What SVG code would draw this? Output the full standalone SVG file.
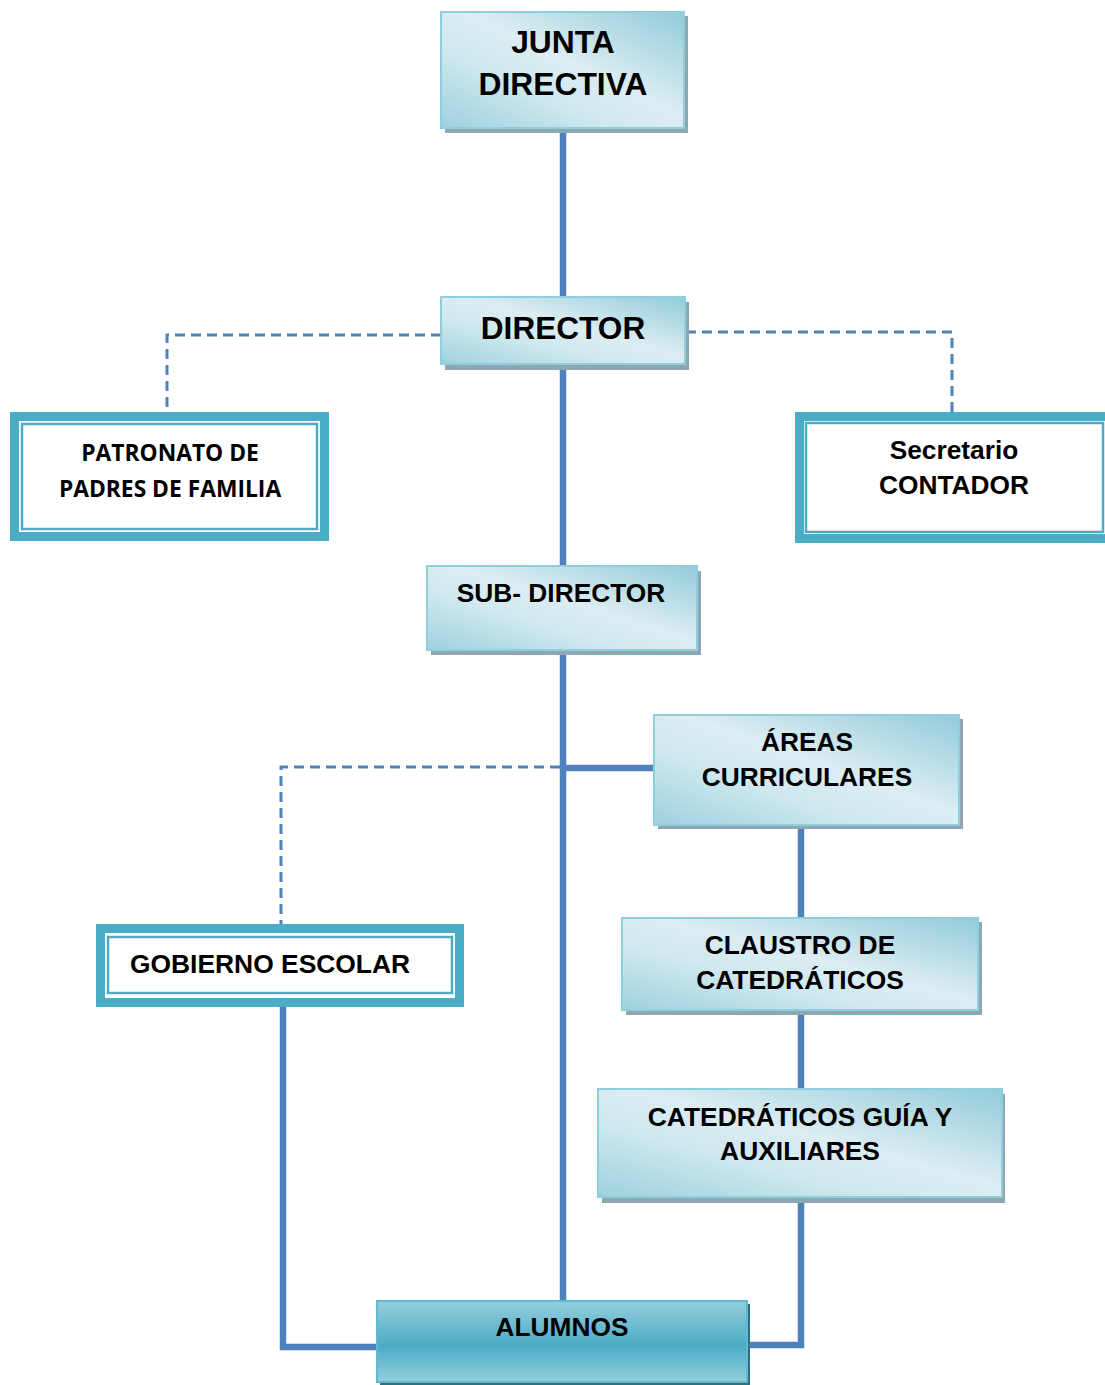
<svg xmlns="http://www.w3.org/2000/svg" width="1105" height="1385" viewBox="0 0 1105 1385">
<defs>
<linearGradient id="lb" x1="0" y1="1" x2="1" y2="0">
<stop offset="0" stop-color="#9ed1de"/>
<stop offset="0.35" stop-color="#cfe8ef"/>
<stop offset="0.55" stop-color="#dcedf3"/>
<stop offset="1" stop-color="#92cbda"/>
</linearGradient>
<linearGradient id="al" x1="0" y1="0" x2="0" y2="1">
<stop offset="0" stop-color="#95cedd"/>
<stop offset="0.55" stop-color="#4bacc6"/>
<stop offset="1" stop-color="#95cedd"/>
</linearGradient>
<style>
.sh{fill:#8ea7b0}
.lb{fill:url(#lb);stroke:#8fcfdd;stroke-width:2}
.t{font-family:"Liberation Sans",Arial,sans-serif;font-weight:bold;fill:#000;text-anchor:middle}
.tc{font-family:"Open Sans","Noto Sans",sans-serif;font-weight:bold;fill:#000;text-anchor:middle}
.ob{fill:#fff;stroke:#4bacc6;stroke-width:9}
.ib{fill:none;stroke:#4bacc6;stroke-width:2.5}
.c{fill:none;stroke:#4f81bd;stroke-width:6.5}
.d{fill:none;stroke:#4f81bd;stroke-width:3;stroke-dasharray:10 6}
</style>
</defs>
<g id="connectors">
<line class="c" x1="563" y1="128" x2="563" y2="298"/>
<line class="c" x1="563" y1="366" x2="563" y2="566"/>
<line class="c" x1="563" y1="651" x2="563" y2="1301"/>
<line class="c" x1="563" y1="768" x2="655" y2="768"/>
<line class="c" x1="801" y1="825" x2="801" y2="918"/>
<line class="c" x1="801" y1="1012" x2="801" y2="1089"/>
<polyline class="c" points="801,1200 801,1345 747,1345"/>
<polyline class="c" points="283,1005 283,1347 377,1347"/>
<polyline class="d" points="441,335 167,335 167,413"/>
<polyline class="d" points="686,332 952,332 952,413"/>
<polyline class="d" points="560,767 281,767 281,926"/>
</g>
<g id="junta">
<rect class="sh" x="445" y="16" width="243" height="117"/>
<rect class="lb" x="441" y="12" width="243" height="116"/>
<text class="t" x="563" y="53" font-size="31.8">JUNTA</text>
<text class="t" x="563" y="95" font-size="31.8">DIRECTIVA</text>
</g>
<g id="director">
<rect class="sh" x="445" y="302" width="244" height="68"/>
<rect class="lb" x="441" y="297" width="244" height="67"/>
<text class="t" x="563" y="339" font-size="31.6">DIRECTOR</text>
</g>
<g id="patronato">
<rect class="ob" x="14.5" y="416.5" width="310" height="120"/>
<rect class="ib" x="22" y="424" width="295" height="105"/>
<text class="tc" x="170" y="461" font-size="22.8">PATRONATO DE</text>
<text class="tc" x="170" y="497" font-size="22.8">PADRES DE FAMILIA</text>
</g>
<g id="secretario">
<rect class="ob" x="799.5" y="416.5" width="314" height="122"/>
<rect class="ib" x="806" y="423" width="297" height="109"/>
<text class="t" x="954" y="459" font-size="26.3">Secretario</text>
<text class="t" x="954" y="494" font-size="26.3">CONTADOR</text>
</g>
<g id="subdirector">
<rect class="sh" x="431" y="571" width="270" height="84"/>
<rect class="lb" x="427" y="566" width="270" height="84"/>
<text class="t" x="561" y="602" font-size="26.3">SUB- DIRECTOR</text>
</g>
<g id="areas">
<rect class="sh" x="658" y="719" width="305" height="110"/>
<rect class="lb" x="654" y="715" width="305" height="110"/>
<text class="t" x="807" y="751" font-size="26.3">ÁREAS</text>
<text class="t" x="807" y="786" font-size="26.3">CURRICULARES</text>
</g>
<g id="gobierno">
<rect class="ob" x="100.5" y="928.5" width="359" height="74"/>
<rect class="ib" x="108" y="937" width="344" height="56"/>
<text class="t" x="130" y="973" font-size="26.4" style="text-anchor:start">GOBIERNO ESCOLAR</text>
</g>
<g id="claustro">
<rect class="sh" x="626" y="922" width="356" height="93"/>
<rect class="lb" x="622" y="918" width="356" height="92"/>
<text class="t" x="800" y="954" font-size="26.4">CLAUSTRO DE</text>
<text class="t" x="800" y="989" font-size="26.4">CATEDRÁTICOS</text>
</g>
<g id="catedraticos">
<rect class="sh" x="602" y="1094" width="403" height="109"/>
<rect class="lb" x="598" y="1089" width="404" height="108"/>
<text class="t" x="800" y="1126" font-size="26.4">CATEDRÁTICOS GUÍA Y</text>
<text class="t" x="800" y="1160" font-size="26.4">AUXILIARES</text>
</g>
<g id="alumnos">
<rect x="380" y="1304" width="370" height="81" fill="#2f6f80"/>
<rect x="377" y="1301" width="370" height="81" fill="url(#al)" stroke="#62b8cf" stroke-width="2"/>
<text class="t" x="562" y="1336" font-size="26.3">ALUMNOS</text>
</g>
</svg>
